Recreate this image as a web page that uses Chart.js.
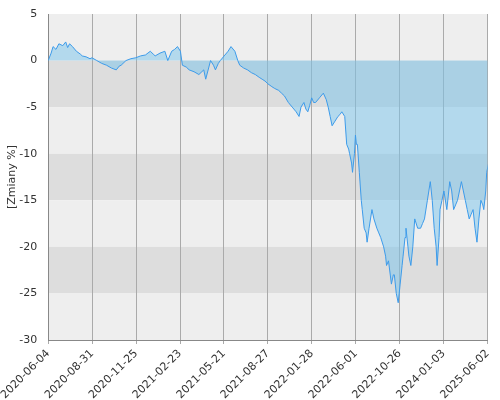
<!DOCTYPE html>
<html><head><script src="https://cdn.jsdelivr.net/npm/chart.js"></script>
<style>body{margin:0}#w{width:500px;height:400px}</style></head>
<body><div id="w"><canvas id="c"></canvas></div>
<script>
const tickLabels=["2020-06-04","2020-08-31","2020-11-25","2021-02-23","2021-05-21","2021-08-27","2022-01-28","2022-06-01","2022-10-26","2024-01-03","2025-06-02"];
// x in pixel-like units across the reference plot (45..500)
const px=[45,48,50,53,56,60,63,65,67,70,74,78,80,84,88,90,95,100,105,110,115,118,120,125,130,135,140,145,150,153,155,160,165,168,172,175,178,181,183,187,190,195,200,203,205,207,210,212,215,217,220,222,226,230,233,237,240,242,246,250,254,258,262,265,268,271,275,278,282,285,288,292,296,300,303,305,308,310,312,314,316,318,320,324,328,331,333,335,337,340,343,345,347,350,352,354,355,357,358,360,361,362,363,365,367,368,370,372,373,375,378,380,383,385,387,390,392,393,395,398,400,401,403,405,406,407,409,410,412,413,415,416,418,420,422,425,428,430,432,435,438,440,442,444,445,447,448,450,452,455,458,460,462,464,466,468,470,472,474,476,478,480,482,484,486,488,490,492,493,495,496,498,499];
const values=[0,0.8,1.5,1.2,1.8,1.6,2,1.4,1.8,1.5,1,0.7,0.5,0.4,0.2,0.3,0,-0.3,-0.5,-0.8,-1,-0.6,-0.5,0,0.2,0.3,0.5,0.6,1,0.7,0.5,0.8,1,0,1,1.2,1.5,1,-0.5,-0.7,-1,-1.2,-1.5,-1.2,-1,-2,-0.8,0,-0.5,-1,-0.3,0,0.5,1,1.5,1,0,-0.5,-0.8,-1,-1.3,-1.5,-1.8,-2,-2.2,-2.5,-2.8,-3,-3.2,-3.5,-3.8,-4.5,-5,-5.5,-6,-5,-4.5,-5.2,-5.5,-4.8,-4,-4.5,-4.5,-4,-3.5,-4.2,-5,-6,-7,-6.5,-6,-5.8,-5.5,-6,-9,-9.5,-10,-11,-12,-10,-8,-9,-9,-12,-15,-16,-18,-18.5,-19.5,-18,-16,-17,-18,-18.5,-19,-20,-21,-22,-21.5,-24,-23,-23,-25,-26,-25,-24,-22,-21,-19,-18,-20,-21,-22,-20,-17,-18,-18,-17.5,-17,-15,-13,-15,-18,-20,-22,-19,-16,-15,-14,-16,-13,-14,-16,-15.5,-15,-14,-13,-14,-15,-16,-17,-16.5,-16,-18,-19.5,-17,-15,-15.5,-16,-14,-12,-11,-10];
const bands={id:'bands',beforeDraw(ch){const {ctx,chartArea:a,scales:{y}}=ch;ctx.save();
for(let v=5;v>-30;v-=5){const t=y.getPixelForValue(v),b=y.getPixelForValue(v-5);ctx.fillStyle=((5-v)/5)%2===0?'#eeeeee':'#dddddd';ctx.fillRect(a.left,t,a.right-a.left,b-t);}
ctx.restore();}};
new Chart(document.getElementById('c'),{type:'line',
data:{datasets:[{data:px.map((p,i)=>({x:(p-45)/45.2,y:values[i]})),borderColor:'#3d9bea',borderWidth:1,pointRadius:0,tension:0,fill:{value:0},backgroundColor:'rgba(120,195,235,0.5)'}]},
options:{animation:false,responsive:true,maintainAspectRatio:false,layout:{padding:{right:0,top:14,left:0,bottom:0}},
plugins:{legend:{display:false},tooltip:{enabled:false}},
scales:{x:{type:'linear',min:0,max:10,grid:{color:'#aaaaaa',drawTicks:true,tickLength:4},border:{color:'#888'},afterFit:s=>{s.height=60;},
ticks:{stepSize:1,autoSkip:false,maxRotation:45,minRotation:45,color:'#333',font:{size:11,family:'DejaVu Sans'},callback:v=>tickLabels[Math.round(v)]}},
y:{min:-30,max:5,grid:{display:false},border:{color:'#888'},afterFit:s=>{s.width=45;},ticks:{stepSize:5,color:'#333',font:{size:11,family:'DejaVu Sans'}},
title:{display:true,text:'[Zmiany %]',color:'#333',padding:2,font:{size:11,family:'DejaVu Sans'}}}}},
plugins:[bands]});
</script></body></html>
